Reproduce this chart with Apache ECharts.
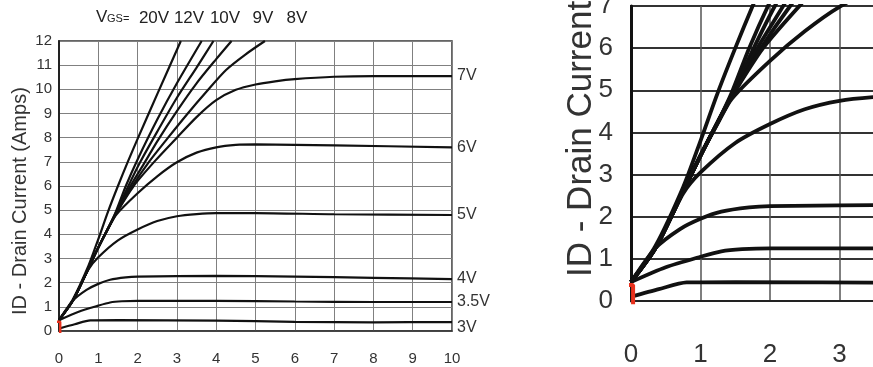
<!DOCTYPE html>
<html><head><meta charset="utf-8">
<script src="https://cdn.jsdelivr.net/npm/echarts@6/dist/echarts.min.js"></script>
<style>html,body{margin:0;padding:0;background:#fff}#c{width:873px;height:367px}</style>
</head><body><div id="c"></div><script>
// ---- data (VDS in volts, ID in amps) ----
const curveNames = ['20V','12V','10V','9V','8V','7V','6V','5V','4V','3.5V','3V'];
const v20 = [[0,0.45],[0.35,1.3],[0.75,2.7],[1.0,3.8],[1.25,4.95],[1.5,6.0],[1.75,7.0],[2.0,7.95],[2.5,9.8],[3.1,12]];
const v12 = [[0,0.45],[0.35,1.25],[0.75,2.6],[1.0,3.45],[1.25,4.25],[1.45,4.95],[1.7,6.0],[2.0,7.1],[2.5,8.75],[3.0,10.25],[3.63,12]];
const v10 = [[0,0.45],[0.35,1.25],[0.75,2.6],[1.0,3.45],[1.25,4.25],[1.45,4.9],[1.75,5.95],[2.07,7.0],[2.5,8.25],[3.0,9.65],[3.5,10.9],[3.93,12]];
const v9  = [[0,0.45],[0.35,1.25],[0.75,2.6],[1.0,3.45],[1.25,4.25],[1.45,4.85],[1.8,5.95],[2.19,7.0],[2.5,7.85],[3.0,9.1],[3.5,10.25],[4.0,11.25],[4.39,12]];
const v8  = [[0,0.45],[0.35,1.25],[0.75,2.6],[1.0,3.45],[1.25,4.25],[1.45,4.85],[1.85,5.95],[2.29,7.0],[2.75,7.95],[3.25,8.95],[3.75,9.9],[4.25,10.8],[4.75,11.45],[5.24,12]];
const v7  = [[0,0.45],[0.35,1.25],[0.75,2.6],[1.0,3.45],[1.25,4.25],[1.45,4.85],[1.9,6.0],[2.45,7.05],[3.0,8.0],[3.5,8.85],[4.0,9.55],[4.5,9.98],[5.0,10.2],[5.5,10.33],[6.0,10.42],[7.0,10.52],[8.0,10.55],[10,10.55]];
const v6  = [[0,0.45],[0.35,1.25],[0.75,2.6],[1.0,3.45],[1.25,4.22],[1.45,4.8],[2.0,5.7],[2.5,6.4],[3.0,6.98],[3.5,7.38],[4.0,7.6],[4.5,7.7],[5.0,7.72],[7.0,7.68],[10,7.6]];
const v5  = [[0,0.45],[0.35,1.25],[0.75,2.55],[1.0,3.05],[1.5,3.75],[2.0,4.2],[2.5,4.55],[3.0,4.75],[3.5,4.84],[4.0,4.88],[5.0,4.88],[7.0,4.83],[10,4.8]];
const v4  = [[0,0.45],[0.35,1.25],[0.7,1.7],[1.0,1.95],[1.3,2.12],[1.7,2.22],[2.0,2.25],[4.0,2.28],[6.0,2.25],[8.0,2.2],[10,2.15]];
const v35 = [[0,0.45],[0.5,0.8],[1.0,1.05],[1.3,1.18],[1.6,1.23],[2.0,1.25],[4.0,1.25],[6.0,1.22],[8.0,1.2],[10,1.2]];
const v3  = [[0,0.1],[0.4,0.28],[0.8,0.44],[1.5,0.45],[4.0,0.43],[6.0,0.38],[8.0,0.36],[10,0.37]];
const curves = [v20,v12,v10,v9,v8,v7,v6,v5,v4,v35,v3];
const endLabelled = ['7V','6V','5V','4V','3.5V','3V'];
const headerLabels = ['20V','12V','10V','9V','8V'];
const redMark = [[-0.07,0.38],[0.03,0.38],[0.03,-0.08]];
const axisName = 'ID - Drain Current (Amps)';
const axisNameShort = 'ID - Drain Current';

// ---- layout ----
const headerX = [154,189,225,263,297];
const FONT = '"Liberation Sans", Arial, sans-serif';

const chart = echarts.init(document.getElementById('c'));
const series = [];
curves.forEach((d, i) => {
  const name = curveNames[i];
  const hasLabel = endLabelled.indexOf(name) >= 0;
  series.push({
    type: 'line', name: name, data: d, xAxisIndex: 0, yAxisIndex: 0,
    showSymbol: false, smooth: 0.25,
    lineStyle: { color: '#111', width: 2.2 },
    silent: true,
    endLabel: hasLabel ? {
      show: true, formatter: name, distance: 5, fontSize: 16, color: '#333', fontFamily: FONT,
      offset: name === '3V' ? [0, 6] : [0, 0]
    } : { show: false }
  });
  series.push({
    type: 'line', name: name + ' zoom', data: d, xAxisIndex: 1, yAxisIndex: 1,
    showSymbol: false, smooth: 0.25,
    lineStyle: { color: '#111', width: 3.8 }, silent: true
  });
});
series.push({ type: 'line', data: redMark, xAxisIndex: 0, yAxisIndex: 0, showSymbol: false, clip: false,
  lineStyle: { color: '#e8301c', width: 2.5 }, silent: true, z: 5 });
series.push({ type: 'line', data: redMark, xAxisIndex: 1, yAxisIndex: 1, showSymbol: false, clip: false,
  lineStyle: { color: '#e8301c', width: 4 }, silent: true, z: 5 });

const graphics = [
  { type: 'text', left: 96, top: 9, style: { text: 'V', font: '17px ' + FONT, fill: '#222' } },
  { type: 'text', left: 107, top: 13, style: { text: 'GS=', font: '11px ' + FONT, fill: '#222' } },
  { type: 'text', x: 20, y: 315, rotation: Math.PI / 2,
    style: { text: axisName, font: '20px ' + FONT, fill: '#333', textAlign: 'left', textVerticalAlign: 'middle' } },
  { type: 'text', x: 581, y: 277, rotation: Math.PI / 2,
    style: { text: axisNameShort, font: '35px ' + FONT, fill: '#333', textAlign: 'left', textVerticalAlign: 'middle' } }
];
headerLabels.forEach((t, i) => graphics.push({ type: 'text', x: headerX[i], y: 18,
  style: { text: t, font: '17px ' + FONT, fill: '#222', textAlign: 'center', textVerticalAlign: 'middle' } }));

chart.setOption({
  backgroundColor: '#fff',
  animation: false,
  grid: [
    { left: 59, top: 41, width: 393, height: 290, show: true, borderColor: '#333', borderWidth: 1.5,
      containLabel: false, outerBoundsMode: 'none' },
    { left: 631, top: 6, width: 278, height: 295, show: true, borderColor: '#222', borderWidth: 2,
      containLabel: false, outerBoundsMode: 'none' }
  ],
  xAxis: [
    { type: 'value', gridIndex: 0, min: 0, max: 10, interval: 1,
      axisLine: { show: true, lineStyle: { color: '#333', width: 1.5 } }, axisTick: { show: false },
      axisLabel: { fontSize: 15, color: '#333', margin: 20, fontFamily: FONT },
      splitLine: { show: true, lineStyle: { color: '#808080', width: 1 } } },
    { type: 'value', gridIndex: 1, min: 0, max: 4, interval: 1,
      axisLine: { show: true, lineStyle: { color: '#222', width: 2 } }, axisTick: { show: false },
      axisLabel: { fontSize: 26, color: '#333', margin: 41, fontFamily: FONT },
      splitLine: { show: true, lineStyle: { color: '#555', width: 1.5 } } }
  ],
  yAxis: [
    { type: 'value', gridIndex: 0, min: 0, max: 12, interval: 1,
      axisLine: { show: true, lineStyle: { color: '#222', width: 2 } }, axisTick: { show: false },
      axisLabel: { fontSize: 15, color: '#333', margin: 7, fontFamily: FONT },
      splitLine: { show: true, lineStyle: { color: '#808080', width: 1 } } },
    { type: 'value', gridIndex: 1, min: 0, max: 7, interval: 1,
      axisLine: { show: true, lineStyle: { color: '#111', width: 3 } }, axisTick: { show: false },
      axisLabel: { fontSize: 26, color: '#333', margin: 18, fontFamily: FONT },
      splitLine: { show: true, lineStyle: { color: '#333', width: 2 } } }
  ],
  graphic: graphics,
  series: series
});
</script></body></html>
